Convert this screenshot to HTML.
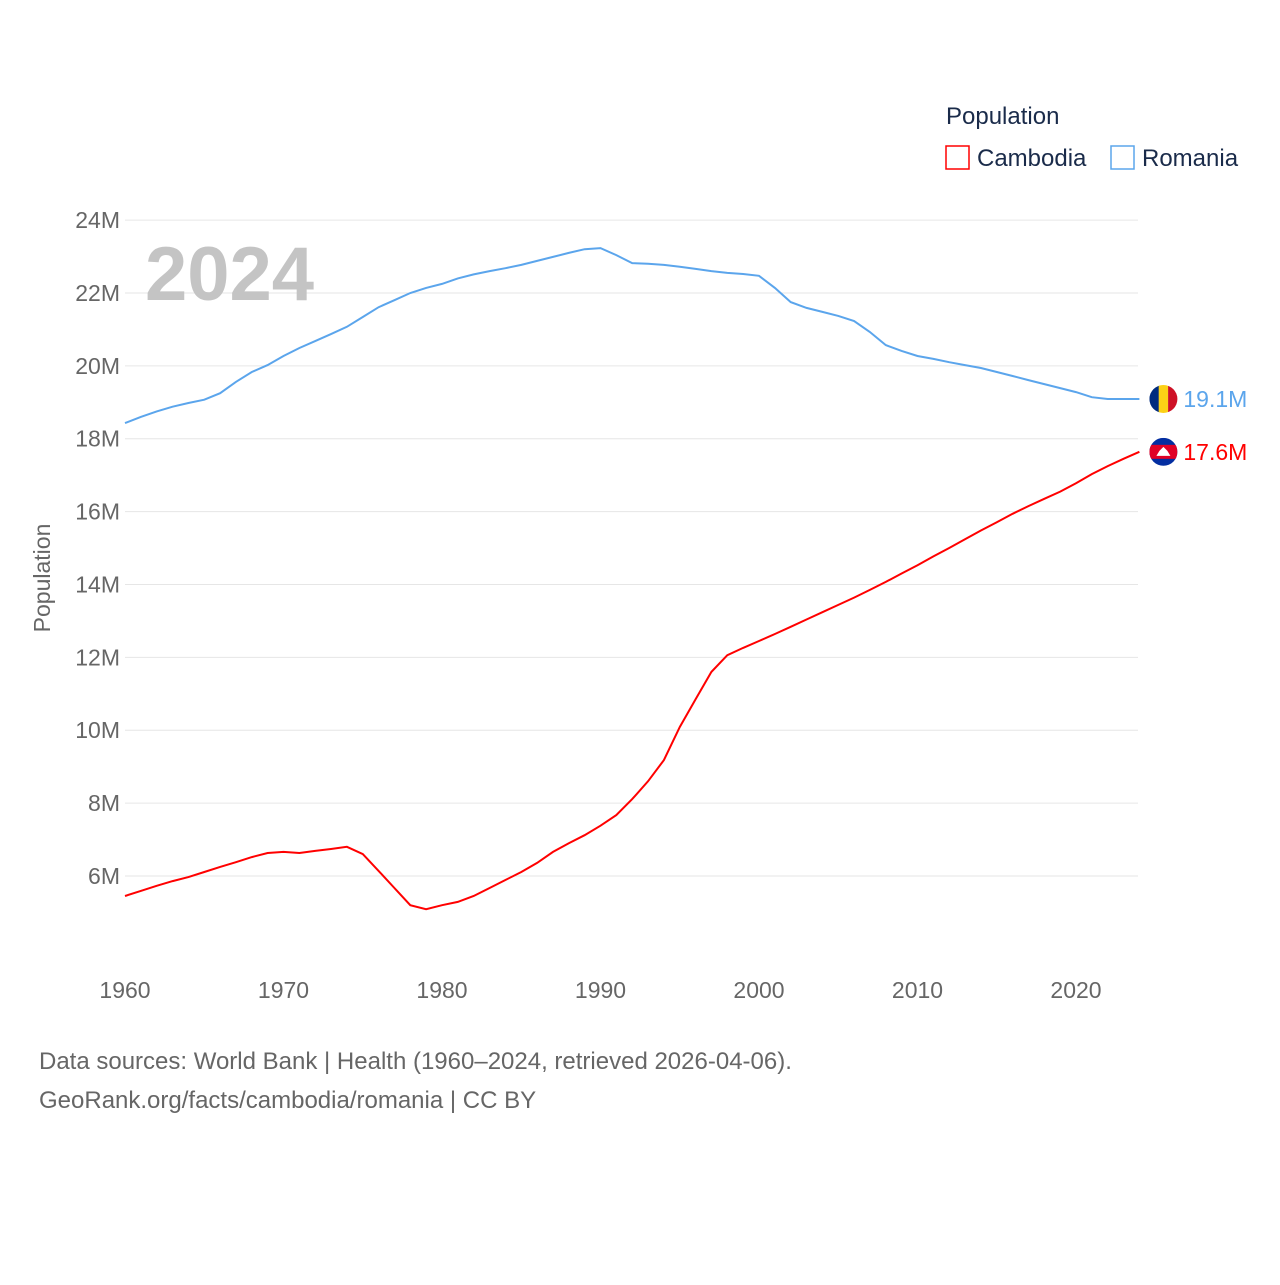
<!DOCTYPE html>
<html><head><meta charset="utf-8"><style>
body{margin:0;background:#fff;font-family:"Liberation Sans",sans-serif}
svg text{font-family:"Liberation Sans",sans-serif}
</style></head><body>
<svg id="chart" width="1280" height="1280" xmlns="http://www.w3.org/2000/svg">
<g id="grid"></g>
<g id="yticks"></g>
<g id="xticks"></g>
<text x="145" y="300" font-size="76" font-weight="bold" fill="#c4c4c4">2024</text>
<text transform="translate(50,578) rotate(-90)" text-anchor="middle" font-size="23" fill="#666">Population</text>
<g id="series"></g>
<g>
<text x="946" y="124" font-size="24" fill="#1a2b4a">Population</text>
<g><rect x="946" y="146" width="23" height="23" fill="none" stroke="#f00" stroke-width="1.5"/><text x="977" y="166" font-size="24" fill="#1a2b4a">Cambodia</text></g>
<g><rect x="1111" y="146" width="23" height="23" fill="none" stroke="#5ba5ec" stroke-width="1.5"/><text x="1142" y="166" font-size="24" fill="#1a2b4a">Romania</text></g>
</g>
<text x="39" y="1069" font-size="24" fill="#666">Data sources: World Bank | Health (1960–2024, retrieved 2026-04-06).</text>
<text x="39" y="1108" font-size="24" fill="#666">GeoRank.org/facts/cambodia/romania | CC BY</text>
</svg>
<script>
const years=[];for(let y=1960;y<=2024;y++)years.push(y);
const romania=[18.43,18.6,18.75,18.88,18.98,19.07,19.25,19.56,19.83,20.02,20.27,20.49,20.68,20.87,21.07,21.34,21.61,21.8,22.0,22.14,22.25,22.4,22.51,22.6,22.68,22.77,22.88,22.99,23.1,23.2,23.23,23.04,22.82,22.8,22.77,22.72,22.66,22.6,22.55,22.52,22.47,22.14,21.75,21.59,21.48,21.37,21.23,20.93,20.57,20.41,20.27,20.19,20.1,20.02,19.94,19.83,19.72,19.61,19.5,19.39,19.28,19.14,19.09,19.09,19.09];
const cambodia=[5.45,5.59,5.73,5.86,5.97,6.11,6.25,6.38,6.52,6.63,6.66,6.63,6.69,6.74,6.8,6.6,6.14,5.67,5.2,5.09,5.2,5.29,5.45,5.67,5.89,6.11,6.36,6.66,6.9,7.12,7.38,7.67,8.11,8.6,9.18,10.09,10.85,11.6,12.06,12.26,12.45,12.64,12.84,13.04,13.24,13.44,13.64,13.85,14.07,14.3,14.53,14.77,15.0,15.24,15.48,15.71,15.94,16.15,16.35,16.55,16.78,17.03,17.25,17.45,17.64];
const yTicks=[6,8,10,12,14,16,18,20,22,24];
const xTicks=[1960,1970,1980,1990,2000,2010,2020];
const X=y=>125+(y-1960)*15.85;
const Y=v=>876-(v-6)*36.44;
const NS="http://www.w3.org/2000/svg";
function mk(tag,at,parent){const e=document.createElementNS(NS,tag);for(const k in at)e.setAttribute(k,at[k]);document.getElementById(parent).appendChild(e);return e;}
yTicks.forEach(v=>{
 const l=mk('line',{x1:125,x2:1138,y1:Y(v),y2:Y(v),stroke:'#e6e6e6','stroke-width':1},'grid');
 
 
 const t=mk('text',{x:120,y:Y(v)+8,'text-anchor':'end','font-size':23,fill:'#666'},'yticks');
 t.textContent=v+'M';
 
 
});
xTicks.forEach(v=>{
 const t=mk('text',{x:X(v),y:998,'text-anchor':'middle','font-size':23,fill:'#666'},'xticks');
 t.textContent=v;
 
 
});
function line(data,color,name){
 const d=data.map((v,i)=>(i?'L':'M')+X(years[i]).toFixed(1)+','+Y(v).toFixed(1)).join('');
 const p=mk('path',{d:d,fill:'none',stroke:color,'stroke-width':2},'series');
 
 
}
line(romania,'#5ba5ec','line-romania');
line(cambodia,'#f00','line-cambodia');
const rx=X(2024)+24, ry=Y(romania[romania.length-1]);
const cy=Y(cambodia[cambodia.length-1]);
const s=document.getElementById('series');
s.insertAdjacentHTML('beforeend',
`<g><clipPath id="cr"><circle cx="${rx}" cy="${ry}" r="14"/></clipPath><g clip-path="url(#cr)"><rect x="${rx-14}" y="${ry-14}" width="10" height="28" fill="#002b7f"/><rect x="${rx-4.7}" y="${ry-14}" width="9.4" height="28" fill="#fcd116"/><rect x="${rx+4.7}" y="${ry-14}" width="10" height="28" fill="#ce1126"/></g></g>
<text x="${rx+20}" y="${ry+8}" font-size="23" fill="#5ba5ec">19.1M</text>
<g><clipPath id="cc"><circle cx="${rx}" cy="${cy}" r="14"/></clipPath><g clip-path="url(#cc)"><rect x="${rx-14}" y="${cy-14}" width="28" height="28" fill="#032ea1"/><rect x="${rx-14}" y="${cy-7}" width="28" height="14" fill="#e00025"/><path d="M${rx-7},${cy+4}L${rx+7},${cy+4}L${rx+4},${cy-1}L${rx},${cy-5}L${rx-4},${cy-1}Z" fill="#fff"/></g></g>
<text x="${rx+20}" y="${cy+8}" font-size="23" fill="#f00">17.6M</text>`);
</script>
</body></html>
